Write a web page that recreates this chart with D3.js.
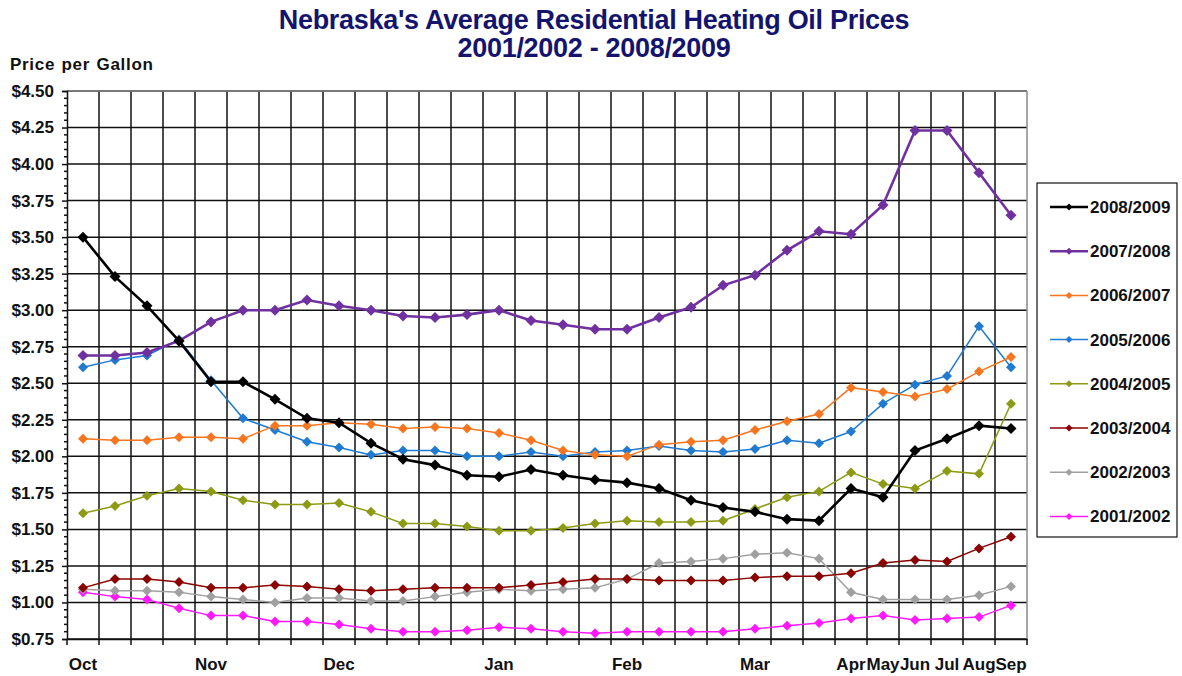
<!DOCTYPE html>
<html><head><meta charset="utf-8">
<script src="https://cdn.jsdelivr.net/npm/d3@7"></script>
<style>
body{margin:0;background:#fff;}
text{font-family:"Liberation Sans",Arial,sans-serif;font-weight:bold;}
</style></head>
<body><svg id="c" width="1182" height="676"></svg>
<script>
const categories = ["Oct","","","","Nov","","","","Dec","","","","","Jan","","","","Feb","","","","Mar","","","Apr","May","Jun","Jul","Aug","Sep"];
const seriesNames = ["2008/2009","2007/2008","2006/2007","2005/2006","2004/2005","2003/2004","2002/2003","2001/2002"];
const seriesColors = ["#000000","#7030a0","#f7761f","#1f7ad0","#8c9a14","#8b0000","#a0a0a0","#ff19ff"];
const s2008 = [3.50,3.23,3.03,2.79,2.51,2.51,2.39,2.26,2.23,2.09,1.98,1.94,1.87,1.86,1.91,1.87,1.84,1.82,1.78,1.70,1.65,1.62,1.57,1.56,1.78,1.72,2.04,2.12,2.21,2.19];
const s2007 = [2.69,2.69,2.71,2.79,2.92,3.00,3.00,3.07,3.03,3.00,2.96,2.95,2.97,3.00,2.93,2.90,2.87,2.87,2.95,3.02,3.17,3.24,3.41,3.54,3.52,3.72,4.23,4.23,3.94,3.65];
const s2006 = [2.12,2.11,2.11,2.13,2.13,2.12,2.21,2.21,2.23,2.22,2.19,2.20,2.19,2.16,2.11,2.04,2.01,2.00,2.08,2.10,2.11,2.18,2.24,2.29,2.47,2.44,2.41,2.46,2.58,2.68];
const s2005 = [2.61,2.66,2.69,2.80,2.52,2.26,2.18,2.10,2.06,2.01,2.04,2.04,2.00,2.00,2.03,2.00,2.03,2.04,2.07,2.04,2.03,2.05,2.11,2.09,2.17,2.36,2.49,2.55,2.89,2.61];
const s2004 = [1.61,1.66,1.73,1.78,1.76,1.70,1.67,1.67,1.68,1.62,1.54,1.54,1.52,1.49,1.49,1.51,1.54,1.56,1.55,1.55,1.56,1.64,1.72,1.76,1.89,1.81,1.78,1.90,1.88,2.36];
const s2003 = [1.10,1.16,1.16,1.14,1.10,1.10,1.12,1.11,1.09,1.08,1.09,1.10,1.10,1.10,1.12,1.14,1.16,1.16,1.15,1.15,1.15,1.17,1.18,1.18,1.20,1.27,1.29,1.28,1.37,1.45];
const s2002 = [1.09,1.08,1.08,1.07,1.04,1.02,1.00,1.03,1.03,1.01,1.01,1.04,1.07,1.09,1.08,1.09,1.10,1.16,1.27,1.28,1.30,1.33,1.34,1.30,1.07,1.02,1.02,1.02,1.05,1.11];
const s2001 = [1.07,1.04,1.02,0.96,0.91,0.91,0.87,0.87,0.85,0.82,0.80,0.80,0.81,0.83,0.82,0.80,0.79,0.80,0.80,0.80,0.80,0.82,0.84,0.86,0.89,0.91,0.88,0.89,0.90,0.98];
const yTicks = [0.75,1.00,1.25,1.50,1.75,2.00,2.25,2.50,2.75,3.00,3.25,3.50,3.75,4.00,4.25,4.50];
const titleLines = ["Nebraska's Average Residential Heating Oil Prices","2001/2002 - 2008/2009"];
const yAxisTitle = "Price per Gallon";

const seriesValues = [s2008,s2007,s2006,s2005,s2004,s2003,s2002,s2001];
const svg = d3.select("#c");
const L=67, R=1027, T=91, B=639;
const x = d3.scaleBand().domain(d3.range(categories.length)).range([L,R]).padding(0);
const y = d3.scaleLinear().domain([0.75,4.5]).range([B,T]);

// title
svg.append("g").selectAll("text").data(titleLines).join("text")
  .attr("x",594).attr("y",(d,i)=>29+i*28).attr("text-anchor","middle")
  .attr("font-size",27).attr("fill","#14146e").attr("letter-spacing",-0.3).text(d=>d);
svg.append("text").attr("x",10).attr("y",70).attr("font-size",17).attr("word-spacing",1)
  .attr("letter-spacing",0.7).attr("fill","#111").text(yAxisTitle);

// grid
const g = svg.append("g");
g.selectAll("line.h").data(yTicks).join("line").attr("class","h")
  .attr("x1",L).attr("x2",R).attr("y1",d=>y(d)).attr("y2",d=>y(d))
  .attr("stroke","#111").attr("stroke-width",1.5);
g.selectAll("line.v").data(d3.range(1,categories.length)).join("line").attr("class","v")
  .attr("x1",d=>x(d)).attr("x2",d=>x(d)).attr("y1",T).attr("y2",B)
  .attr("stroke","#111").attr("stroke-width",1.5);
g.append("line").attr("x1",L).attr("x2",R).attr("y1",T).attr("y2",T).attr("stroke","#888").attr("stroke-width",1.5);
g.append("line").attr("x1",R).attr("x2",R).attr("y1",T).attr("y2",B).attr("stroke","#888").attr("stroke-width",1.5);

// y axis
const yAx = svg.append("g").attr("transform",`translate(${L},0)`)
  .call(d3.axisLeft(y).tickValues(yTicks).tickFormat(d=>"$"+d.toFixed(2)).tickSize(5).tickPadding(8));
const minor = d3.range(0.80,4.5,0.05).filter(v=>Math.abs(Math.round(v/0.25)*0.25-v)>0.01);
yAx.selectAll("line.minor").data(minor).join("line").attr("class","minor")
  .attr("x1",-3).attr("x2",0).attr("y1",d=>y(d)).attr("y2",d=>y(d)).attr("stroke","#111");
yAx.selectAll(".tick text").attr("font-size",17).attr("fill","#111").attr("font-family","Liberation Sans, Arial").attr("font-weight","bold");
yAx.selectAll("path,line").attr("stroke","#111").attr("stroke-width",1.5);

// x axis
const xAx = svg.append("g").attr("transform",`translate(0,${B})`)
  .call(d3.axisBottom(x).tickFormat(i=>categories[i]).tickSize(0).tickPadding(19));
xAx.select(".domain").attr("stroke","#111").attr("stroke-width",1.5);
xAx.selectAll(".tick text").attr("font-size",17).attr("fill","#111").attr("font-family","Liberation Sans, Arial").attr("font-weight","bold");
xAx.selectAll("line.bt").data(d3.range(0,categories.length+1)).join("line").attr("class","bt")
  .attr("x1",d=>L+d*x.bandwidth()).attr("x2",d=>L+d*x.bandwidth()).attr("y1",0).attr("y2",6)
  .attr("stroke","#111").attr("stroke-width",1.5);

// series (oldest first so newer on top)
const line = d3.line().x((d,i)=>x(i)+x.bandwidth()/2).y(d=>y(d));
const diamond = s => `M0,${-s}L${s},0L0,${s}L${-s},0Z`;
d3.range(seriesValues.length).reverse().forEach(k=>{
  const vals = seriesValues[k];
  const thick = k<2;
  const sg = svg.append("g");
  sg.append("path").attr("d",line(vals)).attr("fill","none")
    .attr("stroke",seriesColors[k]).attr("stroke-width",thick?2.6:1.5);
  sg.selectAll("path.m").data(vals).join("path").attr("class","m")
    .attr("transform",(d,i)=>`translate(${x(i)+x.bandwidth()/2},${y(d)})`)
    .attr("d",diamond(thick?5.5:5)).attr("fill",seriesColors[k]);
});

// legend
const lg = svg.append("g");
lg.append("rect").attr("x",1037).attr("y",183).attr("width",140).attr("height",354)
  .attr("fill","#fff").attr("stroke","#111").attr("stroke-width",1.2);
seriesNames.forEach((n,k)=>{
  const yy = 207 + k*44.2;
  lg.append("line").attr("x1",1050).attr("x2",1088).attr("y1",yy).attr("y2",yy)
    .attr("stroke",seriesColors[k]).attr("stroke-width",k<2?2.4:1.5);
  lg.append("path").attr("transform",`translate(1069,${yy})`).attr("d",diamond(3.5)).attr("fill",seriesColors[k]);
  lg.append("text").attr("x",1090).attr("y",yy+6).attr("font-size",17).attr("fill","#111").text(n);
});
</script></body></html>
